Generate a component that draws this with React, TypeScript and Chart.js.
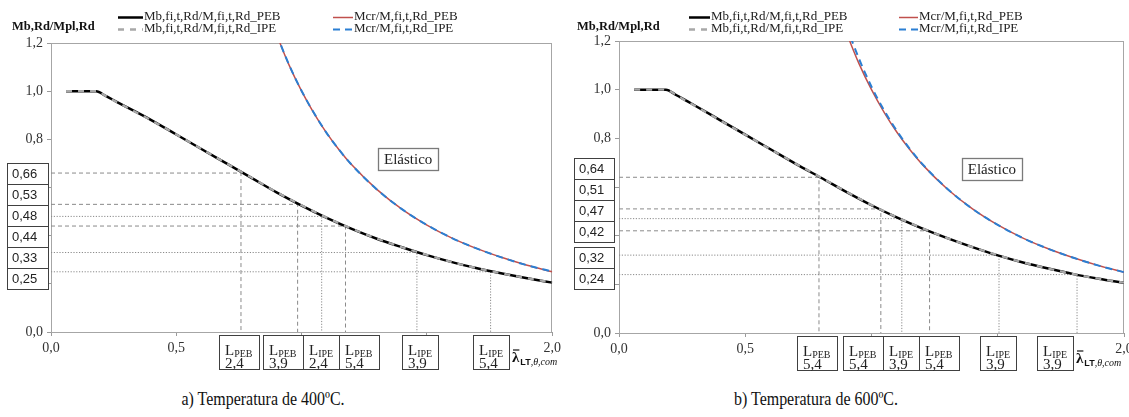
import React, { useEffect, useRef } from 'react';
import { Chart, registerables } from 'chart.js';

Chart.register(...registerables);

type Kind = 'PEB' | 'IPE';

// ---------- shared texts ----------
const seriesLabels = [
  'Mb,fi,t,Rd/M,fi,t,Rd_PEB',
  'Mb,fi,t,Rd/M,fi,t,Rd_IPE',
  'Mcr/M,fi,t,Rd_PEB',
  'Mcr/M,fi,t,Rd_IPE',
];
const yAxisTitle = 'Mb,Rd/Mpl,Rd';
const elasticLabel = 'Elástico';
const xTickLabelsShown = [0, 0.5, 2];
const yTickLabelsShown = [0, 0.8, 1, 1.2];

// ---------- a) 400 ºC ----------
const lambdaA = [0.06, 0.18, 0.22, 0.26, 0.3, 0.4, 0.5, 0.6, 0.7, 0.8, 0.9, 1.0, 1.1, 1.2, 1.3, 1.4, 1.5, 1.6, 1.7, 1.8, 1.9, 2.0];
const mbPebA = [1.0, 1.0, 0.979, 0.957, 0.935, 0.88, 0.82, 0.76, 0.7, 0.64, 0.58, 0.525, 0.474, 0.428, 0.387, 0.352, 0.319, 0.29, 0.265, 0.243, 0.223, 0.205];
const mbIpeA = [1.0, 1.0, 0.979, 0.956, 0.934, 0.879, 0.82, 0.76, 0.7, 0.641, 0.581, 0.526, 0.475, 0.429, 0.388, 0.352, 0.32, 0.29, 0.265, 0.243, 0.223, 0.206];
const lambdaElA = [0.9, 0.95, 1.0, 1.05, 1.1, 1.15, 1.2, 1.3, 1.4, 1.5, 1.6, 1.7, 1.8, 1.9, 2.0];
const mcrPebA = [1.235, 1.108, 1.0, 0.907, 0.826, 0.756, 0.694, 0.592, 0.51, 0.444, 0.39, 0.346, 0.309, 0.277, 0.25];
const mcrIpeA = [1.236, 1.109, 1.001, 0.908, 0.826, 0.756, 0.694, 0.592, 0.51, 0.444, 0.39, 0.346, 0.309, 0.277, 0.251];
const refXA = [0.758, 0.984, 1.08, 1.175, 1.46, 1.754];
const refYA = [0.66, 0.53, 0.48, 0.44, 0.33, 0.25];
const refKindA: Kind[] = ['PEB', 'PEB', 'IPE', 'PEB', 'IPE', 'IPE'];
const lNumA = ['2,4', '3,9', '2,4', '5,4', '3,9', '5,4'];
const captionA = 'a) Temperatura de 400ºC.';

// ---------- b) 600 ºC ----------
const lambdaB = [0.06, 0.186, 0.226, 0.264, 0.3, 0.4, 0.5, 0.6, 0.7, 0.8, 0.9, 1.0, 1.1, 1.2, 1.3, 1.4, 1.5, 1.6, 1.7, 1.8, 1.9, 2.0];
const mbPebB = [1.0, 1.0, 0.978, 0.956, 0.935, 0.875, 0.815, 0.755, 0.695, 0.638, 0.58, 0.525, 0.475, 0.43, 0.39, 0.353, 0.319, 0.29, 0.265, 0.242, 0.223, 0.206];
const mbIpeB = [1.0, 1.0, 0.978, 0.955, 0.934, 0.874, 0.815, 0.755, 0.696, 0.639, 0.581, 0.526, 0.476, 0.431, 0.39, 0.353, 0.32, 0.29, 0.265, 0.242, 0.223, 0.207];
const lambdaElB = [0.9, 0.95, 1.0, 1.05, 1.1, 1.15, 1.2, 1.3, 1.4, 1.5, 1.6, 1.7, 1.8, 1.9, 2.0];
const mcrPebB = [1.235, 1.108, 1.0, 0.907, 0.826, 0.756, 0.694, 0.592, 0.51, 0.444, 0.39, 0.346, 0.309, 0.277, 0.25];
const mcrIpeB = [1.262, 1.128, 1.012, 0.915, 0.831, 0.759, 0.696, 0.593, 0.51, 0.444, 0.39, 0.346, 0.309, 0.277, 0.25];
const refXB = [0.792, 1.037, 1.12, 1.23, 1.505, 1.814];
const refYB = [0.64, 0.51, 0.47, 0.42, 0.32, 0.24];
const refKindB: Kind[] = ['PEB', 'PEB', 'IPE', 'PEB', 'IPE', 'IPE'];
const lNumB = ['5,4', '5,4', '3,9', '5,4', '3,9', '3,9'];
const captionB = 'b) Temperatura de 600ºC.';

// ---------- layout / style ----------
const CANVAS_H = 380;
const SERIF = '"Liberation Serif", "Times New Roman", serif';
const SANS = '"Liberation Sans", Arial, sans-serif';

interface Layout {
  canvasLeft: number;
  canvasWidth: number;
  area: { left: number; top: number; right: number; bottom: number };
  legendX: [number, number];
  legendLen: [number, number];
  legendY: [number, number];
  titleX: number;
  titleY: number;
  yBoxX: [number, number];
  yBoxGroups: { from: number; to: number; top: number }[];
  lBoxGroups: { from: number; to: number; left: number }[];
  elastic: { x: number; y: number };
  captionCenter: number;
}

interface Spec {
  lambda: number[];
  mbPeb: number[];
  mbIpe: number[];
  lambdaEl: number[];
  mcrPeb: number[];
  mcrIpe: number[];
  refX: number[];
  refY: number[];
  refKind: Kind[];
  lNum: string[];
  caption: string;
  layout: Layout;
}

const specA: Spec = {
  lambda: lambdaA, mbPeb: mbPebA, mbIpe: mbIpeA, lambdaEl: lambdaElA, mcrPeb: mcrPebA, mcrIpe: mcrIpeA,
  refX: refXA, refY: refYA, refKind: refKindA, lNum: lNumA, caption: captionA,
  layout: {
    canvasLeft: 0, canvasWidth: 565,
    area: { left: 51, top: 43, right: 554, bottom: 332 },
    legendX: [118, 333], legendLen: [25, 20], legendY: [17, 29],
    titleX: 12, titleY: 30,
    yBoxX: [7, 48],
    yBoxGroups: [{ from: 0, to: 6, top: 163 }],
    lBoxGroups: [
      { from: 0, to: 1, left: 219 },
      { from: 1, to: 4, left: 263 },
      { from: 4, to: 5, left: 402 },
      { from: 5, to: 6, left: 473 },
    ],
    elastic: { x: 1.425, y: 0.717 },
    captionCenter: 263,
  },
};

const specB: Spec = {
  lambda: lambdaB, mbPeb: mbPebB, mbIpe: mbIpeB, lambdaEl: lambdaElB, mcrPeb: mcrPebB, mcrIpe: mcrIpeB,
  refX: refXB, refY: refYB, refKind: refKindB, lNum: lNumB, caption: captionB,
  layout: {
    canvasLeft: 565, canvasWidth: 580,
    area: { left: 619, top: 41, right: 1124, bottom: 333 },
    legendX: [689, 899], legendLen: [21, 19], legendY: [17, 29],
    titleX: 577, titleY: 30,
    yBoxX: [574, 614],
    yBoxGroups: [
      { from: 0, to: 4, top: 158 },
      { from: 4, to: 6, top: 247 },
    ],
    lBoxGroups: [
      { from: 0, to: 1, left: 797 },
      { from: 1, to: 4, left: 843 },
      { from: 4, to: 5, left: 980 },
      { from: 5, to: 6, left: 1037 },
    ],
    elastic: { x: 1.477, y: 0.675 },
    captionCenter: 816,
  },
};

const seriesStyles = [
  { color: '#000000', width: 2.5, dash: [] as number[], order: 3 },
  { color: '#a8a8a8', width: 2.3, dash: [6, 6], order: 2 },
  { color: '#c0504d', width: 1.5, dash: [] as number[], order: 1 },
  { color: '#2b7fd3', width: 2, dash: [7, 5], order: 0 },
];

const fmt = (v: number, d: number) => v.toFixed(d).replace('.', ',');
const near = (arr: number[], v: number) => arr.some((a) => Math.abs(a - v) < 1e-6);

function buildConfig(spec: Spec): any {
  const L = spec.layout;
  const curves = [
    spec.lambda.map((x, i) => ({ x, y: spec.mbPeb[i] })),
    spec.lambda.map((x, i) => ({ x, y: spec.mbIpe[i] })),
    spec.lambdaEl.map((x, i) => ({ x, y: spec.mcrPeb[i] })),
    spec.lambdaEl.map((x, i) => ({ x, y: spec.mcrIpe[i] })),
  ];
  const datasets: any[] = curves.map((data, i) => ({
    label: seriesLabels[i],
    data,
    showLine: true,
    borderColor: seriesStyles[i].color,
    backgroundColor: seriesStyles[i].color,
    borderWidth: seriesStyles[i].width,
    borderDash: seriesStyles[i].dash,
    pointRadius: 0,
    tension: 0.4,
    cubicInterpolationMode: 'monotone',
    order: seriesStyles[i].order,
    clip: 0,
  }));
  spec.refX.forEach((rx, i) => {
    const ry = spec.refY[i];
    datasets.push({
      label: 'ref' + i,
      data: [{ x: 0, y: ry }, { x: rx, y: ry }, { x: rx, y: 0 }],
      showLine: true,
      borderColor: '#8a8a8a',
      borderWidth: 1,
      borderDash: spec.refKind[i] === 'PEB' ? [4, 3] : [1.2, 1.6],
      pointRadius: 0,
      tension: 0,
      order: 10,
    });
  });

  const ox = L.canvasLeft;
  const gridOpts = { drawOnChartArea: false, drawTicks: true, tickLength: 4, color: '#9a9a9a' };

  const annot = {
    id: 'annot',
    beforeDatasetsDraw(chart: any) {
      const ctx = chart.ctx;
      const a = chart.chartArea;
      ctx.save();
      ctx.strokeStyle = '#a6a6a6';
      ctx.lineWidth = 1;
      ctx.strokeRect(Math.round(a.left) + 0.5, Math.round(a.top) + 0.5, Math.round(a.right - a.left) - 1, Math.round(a.bottom - a.top));
      ctx.restore();
    },
    afterDraw(chart: any) {
      const ctx = chart.ctx as CanvasRenderingContext2D;
      const xs = chart.scales.x;
      const ys = chart.scales.y;
      ctx.save();

      // y title
      ctx.fillStyle = '#111';
      ctx.font = `bold 12.5px ${SERIF}`;
      ctx.textBaseline = 'alphabetic';
      ctx.textAlign = 'left';
      ctx.fillText(yAxisTitle, L.titleX - ox, L.titleY);

      // legend
      for (let i = 0; i < 4; i++) {
        const col = Math.floor(i / 2);
        const row = i % 2;
        const x0 = L.legendX[col] - ox;
        const y0 = L.legendY[row];
        const st = seriesStyles[i];
        ctx.strokeStyle = st.color;
        ctx.lineWidth = st.width;
        ctx.setLineDash(st.dash);
        ctx.beginPath();
        ctx.moveTo(x0, y0 + 0.5);
        ctx.lineTo(x0 + L.legendLen[col], y0 + 0.5);
        ctx.stroke();
        ctx.setLineDash([]);
        ctx.fillStyle = '#222';
        ctx.font = `13px ${SERIF}`;
        ctx.textBaseline = 'middle';
        ctx.fillText(seriesLabels[i], x0 + L.legendLen[col] + 1, y0);
      }

      // y value boxes
      const bh = 21;
      ctx.font = `13px ${SANS}`;
      L.yBoxGroups.forEach((g) => {
        for (let k = g.from; k < g.to; k++) {
          const top = g.top + (k - g.from) * bh;
          const left = L.yBoxX[0] - ox;
          const w = L.yBoxX[1] - L.yBoxX[0];
          ctx.fillStyle = '#fff';
          ctx.fillRect(left, top, w, bh);
          ctx.strokeStyle = '#404040';
          ctx.lineWidth = 1;
          ctx.strokeRect(left + 0.5, top + 0.5, w, bh);
          ctx.fillStyle = '#222';
          ctx.textBaseline = 'middle';
          ctx.fillText(fmt(spec.refY[k], 2), left + 5, top + bh / 2 + 1);
        }
      });

      // L boxes
      const boxTop = Math.round(chart.chartArea.bottom) + 3;
      const boxH = 34;
      let lastRight = 0;
      L.lBoxGroups.forEach((g) => {
        let left = g.left - ox;
        for (let k = g.from; k < g.to; k++) {
          ctx.font = `15px ${SERIF}`;
          const wL = ctx.measureText('L').width;
          const wN = ctx.measureText(spec.lNum[k]).width;
          ctx.font = `10px ${SERIF}`;
          const wS = ctx.measureText(spec.refKind[k]).width;
          const w = Math.round(Math.max(wL + wS, wN) + 12);
          ctx.fillStyle = '#fff';
          ctx.fillRect(left, boxTop, w, boxH);
          ctx.strokeStyle = '#404040';
          ctx.lineWidth = 1;
          ctx.strokeRect(left + 0.5, boxTop + 0.5, w, boxH);
          ctx.fillStyle = '#222';
          ctx.textBaseline = 'alphabetic';
          ctx.font = `15px ${SERIF}`;
          ctx.fillText('L', left + 6, boxTop + 20);
          ctx.font = `10px ${SERIF}`;
          ctx.fillText(spec.refKind[k], left + 6 + wL, boxTop + 22);
          ctx.font = `15px ${SERIF}`;
          ctx.fillText(spec.lNum[k], left + 6, boxTop + 33);
          left += w;
        }
        lastRight = left;
      });

      // x title  λ̄ LT,θ,com
      const tx = lastRight + 3;
      const base = boxTop + 27;
      ctx.fillStyle = '#111';
      ctx.font = `bold 15px ${SERIF}`;
      ctx.fillText('λ', tx, base);
      const lw = ctx.measureText('λ').width;
      ctx.strokeStyle = '#111';
      ctx.lineWidth = 1.2;
      ctx.beginPath();
      ctx.moveTo(tx + 1, base - 12);
      ctx.lineTo(tx + lw, base - 12);
      ctx.stroke();
      ctx.font = `bold 9px ${SANS}`;
      ctx.fillText('LT', tx + lw + 1, base + 3);
      const wLT = ctx.measureText('LT').width;
      ctx.font = `italic 10px ${SERIF}`;
      ctx.fillText(',θ,com', tx + lw + 1 + wLT, base + 3);

      // Elástico box
      ctx.font = `15px ${SERIF}`;
      const ew = ctx.measureText(elasticLabel).width + 12;
      const eh = 22;
      const ecx = xs.getPixelForValue(L.elastic.x);
      const ecy = ys.getPixelForValue(L.elastic.y);
      ctx.fillStyle = '#fff';
      ctx.fillRect(ecx - ew / 2, ecy - eh / 2, ew, eh);
      ctx.strokeStyle = '#7a7a7a';
      ctx.lineWidth = 1.3;
      ctx.strokeRect(Math.round(ecx - ew / 2) + 0.5, Math.round(ecy - eh / 2) + 0.5, Math.round(ew), eh);
      ctx.fillStyle = '#222';
      ctx.textAlign = 'center';
      ctx.textBaseline = 'middle';
      ctx.fillText(elasticLabel, ecx, ecy + 1);

      ctx.restore();
    },
  };

  return {
    type: 'scatter',
    data: { datasets },
    options: {
      responsive: false,
      maintainAspectRatio: false,
      animation: false,
      devicePixelRatio: 1,
      layout: {
        padding: { left: 0, top: L.area.top, right: L.canvasLeft + L.canvasWidth - L.area.right, bottom: 0 },
      },
      plugins: { legend: { display: false }, tooltip: { enabled: false }, title: { display: false } },
      scales: {
        x: {
          type: 'linear',
          min: 0,
          max: 2,
          afterFit: (s: any) => { s.height = CANVAS_H - L.area.bottom; },
          ticks: {
            stepSize: 0.5,
            autoSkip: false,
            maxRotation: 0,
            padding: 4,
            color: '#333',
            font: { family: SERIF, size: 14 },
            callback: (v: any) => (near(xTickLabelsShown, Number(v)) ? fmt(Number(v), 1) : ''),
          },
          grid: gridOpts,
          border: { display: true, color: '#9a9a9a' },
        },
        y: {
          type: 'linear',
          min: 0,
          max: 1.2,
          afterFit: (s: any) => { s.width = L.area.left - L.canvasLeft; },
          ticks: {
            stepSize: 0.2,
            autoSkip: false,
            padding: 4,
            color: '#333',
            font: { family: SERIF, size: 14 },
            callback: (v: any) => (near(yTickLabelsShown, Number(v)) ? fmt(Number(v), 1) : ''),
          },
          grid: gridOpts,
          border: { display: true, color: '#9a9a9a' },
        },
      },
    },
    plugins: [annot],
  };
}

function Panel({ spec }: { spec: Spec }) {
  const ref = useRef<HTMLCanvasElement>(null);
  useEffect(() => {
    const chart = new Chart(ref.current as HTMLCanvasElement, buildConfig(spec));
    return () => chart.destroy();
  }, [spec]);
  const L = spec.layout;
  return (
    <>
      <canvas
        ref={ref}
        width={L.canvasWidth}
        height={CANVAS_H}
        style={{ position: 'absolute', left: L.canvasLeft, top: 0, width: L.canvasWidth, height: CANVAS_H }}
      />
      <div
        style={{
          position: 'absolute',
          left: L.captionCenter - 150,
          width: 300,
          top: 388,
          textAlign: 'center',
          fontFamily: SERIF,
          fontSize: 19,
          lineHeight: '22px',
          color: '#111',
          transform: 'scaleX(0.84)',
          transformOrigin: 'center',
        }}
      >
        {spec.caption}
      </div>
    </>
  );
}

export default function App() {
  return (
    <div
      style={{
        position: 'absolute',
        left: 0,
        top: 0,
        width: 1129,
        height: 417,
        overflow: 'hidden',
        background: '#fff',
      }}
    >
      <Panel spec={specA} />
      <Panel spec={specB} />
    </div>
  );
}
